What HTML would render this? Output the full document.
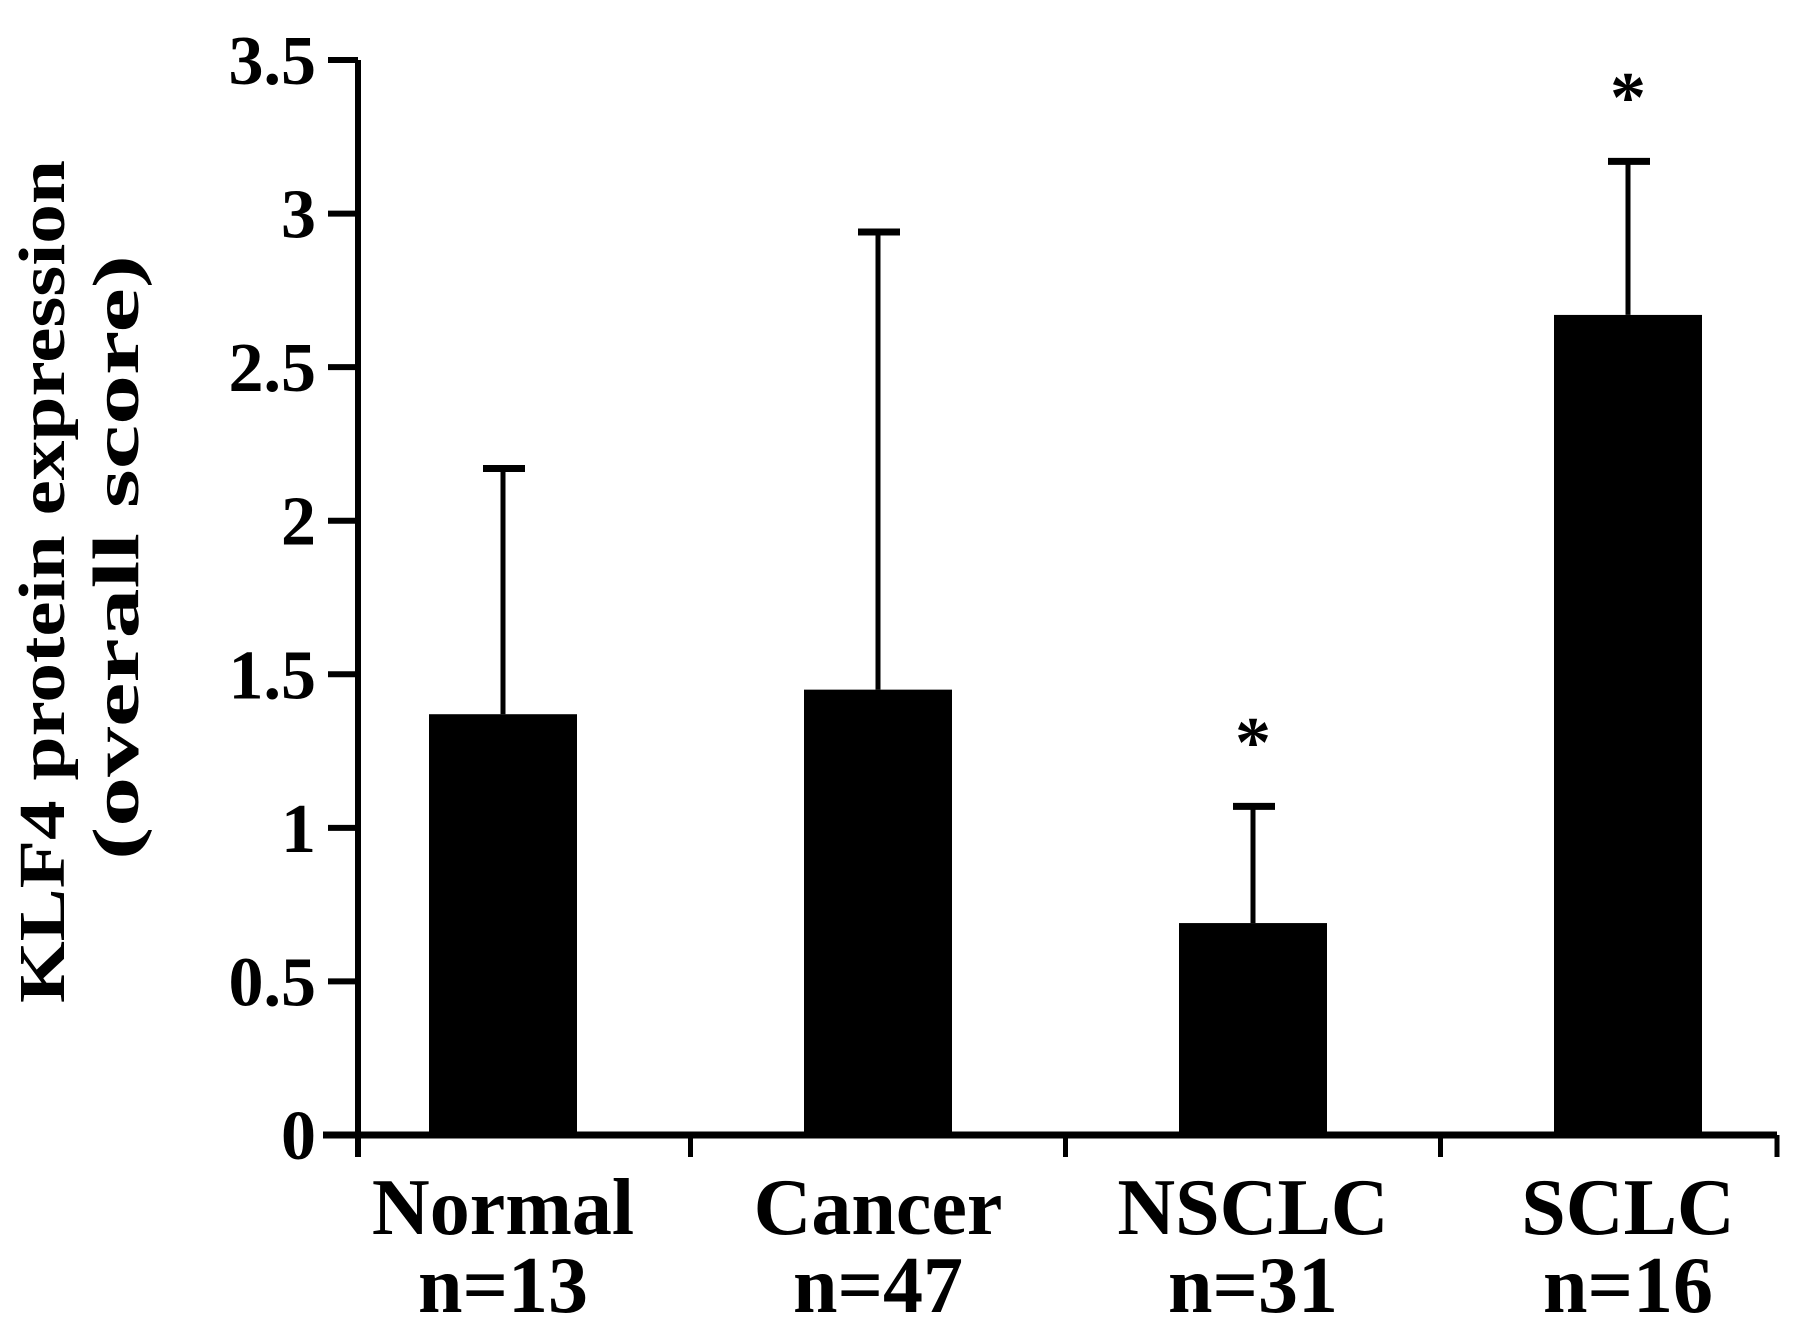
<!DOCTYPE html>
<html><head><meta charset="utf-8"><style>html,body{margin:0;padding:0;background:#fff}svg{display:block}</style></head>
<body>
<svg width="1795" height="1330" viewBox="0 0 1795 1330" id="chart" font-family="'Liberation Serif', serif" font-weight="bold">
<g id="plot"></g>
<text transform="translate(64,1003) rotate(-90)" font-size="66" textLength="843" lengthAdjust="spacingAndGlyphs">KLF4 protein expression</text>
<text transform="translate(138,860) rotate(-90)" font-size="66" textLength="605" lengthAdjust="spacingAndGlyphs">(overall score)</text>
</svg>
<script>
const categories = ["Normal","Cancer","NSCLC","SCLC"];
const nLabels = ["n=13","n=47","n=31","n=16"];
const means = [1.37, 1.45, 0.69, 2.67];
const errUpper = [2.17, 2.94, 1.07, 3.17];
const significant = [false, false, true, true];
const yTicks = [0, 0.5, 1, 1.5, 2, 2.5, 3, 3.5];
const yTickLabels = ["0","0.5","1","1.5","2","2.5","3","3.5"];

const NS = "http://www.w3.org/2000/svg";
const g = document.getElementById("plot");
const x0 = 358, x1 = 1777, y0 = 1135, yTop = 60, yMax = 3.5;
const y = v => y0 - (y0 - yTop) * v / yMax;
const step = 375, firstOffset = 145;
const cx = i => x0 + firstOffset + step * i;
const bw = 148;
function mk(tag, attrs, parent) {
  const e = document.createElementNS(NS, tag);
  for (const k in attrs) e.setAttribute(k, attrs[k]);
  (parent || g).appendChild(e);
  return e;
}
const ya = mk("line", {x1:x0, y1:y(yMax), x2:x0, y2:y0+22, stroke:"#000", "stroke-width":6});


const xa = mk("line", {x1:x0-35, y1:y0, x2:x1, y2:y0, stroke:"#000", "stroke-width":7});


yTicks.forEach((t, i) => {
  const tk = mk("line", {x1:x0-30, y1:y(t), x2:x0, y2:y(t), stroke:"#000", "stroke-width":6});
  
  
  const tl = mk("text", {x:x0-42, y:y(t)+24, "text-anchor":"end", "font-size":70});
  tl.textContent = yTickLabels[i];
  
  
});
const xTickPos = [x0];
for (let i = 0; i < categories.length - 1; i++) xTickPos.push((cx(i) + cx(i + 1)) / 2);
xTickPos.push(x1);
xTickPos.forEach(xt => {
  const tk = mk("line", {x1:xt, y1:y0, x2:xt, y2:y0+22, stroke:"#000", "stroke-width":5});
  
  
});
categories.forEach((c, i) => {
  const c0 = cx(i);
  const bar = mk("rect", {x:c0-bw/2, y:y(means[i]), width:bw, height:y0-y(means[i]), fill:"#000"});
  
  
  const el = mk("line", {x1:c0, y1:y(means[i]), x2:c0, y2:y(errUpper[i]), stroke:"#000", "stroke-width":5});
  
  
  const cap = mk("line", {x1:c0-20, y1:y(errUpper[i]), x2:c0+22, y2:y(errUpper[i]), stroke:"#000", "stroke-width":7});
  
  
  if (significant[i]) {
    const s = mk("text", {x:c0, y:y(errUpper[i])-40, "text-anchor":"middle", "font-size":72});
    s.textContent = "*";
    
    
  }
  const l = mk("text", {x:c0, y:1234, "text-anchor":"middle", "font-size":80});
  l.textContent = c;
  
  
  const n = mk("text", {x:c0, y:1312, "text-anchor":"middle", "font-size":80});
  n.textContent = nLabels[i];
  
  
});
</script>
</body></html>
